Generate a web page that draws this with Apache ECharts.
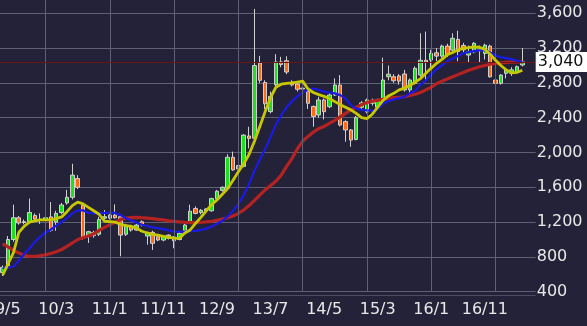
<!DOCTYPE html>
<html>
<head>
<meta charset="utf-8">
<script src="https://cdn.jsdelivr.net/npm/echarts/dist/echarts.min.js"></script>
<style>
html,body{margin:0;padding:0;background:#242238;}
#c{width:587px;height:326px;}
</style>
</head>
<body>
<div id="c"></div>
<script>
// Monthly categories (yy/m), 2009/5 .. 2017/8 (last two months empty)
const categories = [
 '09/5','09/6','09/7','09/8','09/9','09/10','09/11','09/12',
 '10/1','10/2','10/3','10/4','10/5','10/6','10/7','10/8','10/9','10/10','10/11','10/12',
 '11/1','11/2','11/3','11/4','11/5','11/6','11/7','11/8','11/9','11/10','11/11','11/12',
 '12/1','12/2','12/3','12/4','12/5','12/6','12/7','12/8','12/9','12/10','12/11','12/12',
 '13/1','13/2','13/3','13/4','13/5','13/6','13/7','13/8','13/9','13/10','13/11','13/12',
 '14/1','14/2','14/3','14/4','14/5','14/6','14/7','14/8','14/9','14/10','14/11','14/12',
 '15/1','15/2','15/3','15/4','15/5','15/6','15/7','15/8','15/9','15/10','15/11','15/12',
 '16/1','16/2','16/3','16/4','16/5','16/6','16/7','16/8','16/9','16/10','16/11','16/12',
 '17/1','17/2','17/3','17/4','17/5','17/6','17/7','17/8'
];
const yearStarts = ['10/1','11/1','12/1','13/1','14/1','15/1','16/1','17/1'];

const openP = [620,700,1000,1250,1195,1205,1275,1232,1225,1260,
 1200,1310,1420,1485,1700,1390,1050,1080,1060,1245,
 1245,1280,1262,1060,1147,1109,1204,1040,1082,1032,
 994,1051,985,1000,1100,1190,1355,1310,1350,1330,
 1470,1565,1590,1945,1811,1840,2190,2165,3030,2805,
 2470,2780,3041,3055,2807,2787,2740,2700,2529,2431,
 2604,2526,2661,2775,2355,2259,2150,2520,2469,2566,
 2520,2623,2871,2871,2880,2902,2719,2795,2890,3060,
 3064,3146,3108,3223,3177,3300,3230,3120,3157,3170,
 3139,3223,2833,2795,2910,2910,2929,3006];
const closeP = [680,1000,1250,1190,1205,1310,1235,1230,1250,1105,
 1300,1397,1485,1740,1600,1030,1090,1045,1230,1262,
 1280,1250,1051,1166,1109,1166,1166,1071,956,994,
 1040,1013,1030,1070,1166,1325,1300,1335,1330,1470,
 1555,1600,1945,1800,1850,2200,2162,3000,2830,2560,
 2645,3040,3011,2925,2777,2727,2730,2566,2414,2604,
 2469,2661,2775,2316,2259,2143,2400,2570,2604,2600,
 2604,2833,2900,2825,2820,2719,2833,2967,3060,3040,
 3139,3108,3223,3127,3312,3160,3180,3157,3255,3180,
 3234,2870,2795,2890,2948,2950,2986,3040];
const lowP = [580,690,975,1170,1175,1190,1200,1180,1195,1090,
 1100,1290,1400,1460,1580,1000,960,1020,1040,1225,
 1230,1240,807,1040,1090,1100,1150,940,880,980,
 980,1000,900,990,1090,1180,1290,1290,1320,1320,
 1460,1550,1580,1790,1750,1830,2047,2150,2800,2500,
 2450,2760,2980,2900,2760,2700,2680,2500,2296,2400,
 2380,2510,2650,2300,2124,2066,2140,2500,2450,2540,
 2500,2600,2830,2800,2780,2700,2650,2780,2870,2810,
 2960,3050,3090,3100,3160,3050,3150,3040,3140,3040,
 3070,2860,2760,2780,2850,2880,2910,2990];
const highP = [700,1040,1400,1270,1230,1470,1300,1300,1300,1430,
 1330,1420,1570,1870,1740,1420,1100,1100,1260,1339,
 1300,1404,1280,1180,1170,1180,1220,1090,1100,1040,
 1050,1060,1040,1080,1180,1400,1380,1350,1360,1480,
 1570,1610,1980,2010,1900,2210,2296,3650,3110,2830,
 2700,3130,3100,3106,2830,2800,2770,2710,2540,2640,
 2620,2680,2852,2890,2370,2270,2420,2590,2620,2620,
 2620,3090,3000,2900,2900,2950,2850,2990,3370,3390,
 3180,3200,3240,3250,3370,3400,3260,3230,3270,3230,
 3250,3240,2850,2900,2960,2980,3000,3200];

// Moving averages
const maShort = [590,720,845,1080,1150,1200,1215,1225,1225,1225,
 1240,1260,1320,1390,1430,1410,1370,1330,1290,1210,
 1205,1200,1175,1160,1150,1130,1095,1075,1060,1050,
 1035,1025,1015,1014,1075,1110,1185,1255,1330,1400,
 1455,1520,1585,1680,1780,1870,1980,2130,2300,2470,
 2630,2750,2785,2795,2800,2810,2820,2730,2690,2665,
 2645,2620,2585,2550,2520,2490,2450,2400,2390,2440,
 2520,2600,2650,2680,2720,2740,2770,2810,2850,2910,
 2970,3025,3070,3125,3150,3180,3200,3205,3215,3210,
 3185,3130,3060,3000,2950,2915,2920,2945];
const maMid = [670,675,690,755,830,900,970,1030,1080,1115,
 1160,1200,1245,1300,1335,1335,1305,1300,1300,1305,
 1308,1305,1280,1245,1220,1195,1170,1155,1140,1130,
 1120,1105,1090,1090,1090,1095,1100,1110,1125,1150,
 1180,1215,1265,1330,1410,1510,1640,1790,1920,2040,
 2180,2320,2430,2520,2590,2645,2690,2720,2735,2720,
 2700,2690,2680,2660,2620,2545,2505,2490,2485,2480,
 2500,2560,2590,2610,2625,2640,2680,2710,2780,2830,
 2900,2960,3000,3050,3080,3110,3140,3155,3165,3175,
 3175,3150,3115,3095,3085,3070,3055,3040];
const maLong = [950,915,875,845,820,805,805,815,825,840,
 860,885,920,960,1000,1020,1040,1065,1105,1140,
 1170,1200,1230,1245,1252,1255,1250,1245,1240,1232,
 1225,1215,1208,1202,1198,1195,1195,1198,1203,1210,
 1220,1235,1250,1270,1300,1340,1390,1450,1510,1570,
 1620,1670,1740,1840,1930,2040,2130,2185,2235,2275,
 2300,2335,2370,2410,2450,2490,2520,2550,2575,2590,
 2600,2610,2620,2630,2635,2640,2655,2670,2690,2720,
 2750,2790,2820,2845,2870,2895,2920,2945,2965,2985,
 3000,3015,3025,3030,3035,3038,3040,3042];

const candleData = openP.map((o, i) => [o, closeP[i], lowP[i], highP[i]]);
const lastClose = closeP[closeP.length - 1];
const fmt = v => Number(v).toLocaleString('en-US');

const chart = echarts.init(document.getElementById('c'), null, {renderer: 'canvas'});
chart.setOption({
  animation: false,
  backgroundColor: '#242238',
  grid: {left: 0, top: -21.5, width: 535.7, height: 313.2,
         containLabel: false, outerBoundsMode: 'none'},
  xAxis: {
    type: 'category',
    data: categories,
    boundaryGap: true,
    offset: 3.5,
    axisTick: {show: false},
    axisLine: {show: true, lineStyle: {color: '#55556a', type: 'dotted', width: 1}},
    splitLine: {show: false},
    axisLabel: {
      interval: 9, color: '#e8e8e8', fontSize: 16, margin: 7,
      fontFamily: 'DejaVu Sans'
    }
  },
  yAxis: {
    type: 'value',
    position: 'right',
    min: 400, max: 4000, interval: 400,
    axisLine: {show: false},
    axisTick: {show: false},
    splitLine: {show: true, lineStyle: {color: '#606074', width: 1}},
    axisLabel: {
      color: '#e8e8e8', fontSize: 16, margin: 1, showMaxLabel: false,
      fontFamily: 'DejaVu Sans', formatter: v => fmt(v)
    }
  },
  series: [
    {
      type: 'line', data: [], z: 1, silent: true,
      markLine: {
        silent: true, symbol: ['none', 'none'], animation: false,
        label: {show: false},
        lineStyle: {color: '#606074', width: 1, type: 'solid'},
        data: yearStarts.map(m => ({xAxis: m}))
      }
    },
    {
      type: 'candlestick',
      data: candleData,
      barWidth: 4,
      z: 2,
      itemStyle: {
        color: '#1ee01e', color0: '#ff6a14',
        borderColor: '#d0d0d0', borderColor0: '#d0d0d0', borderWidth: 1
      },
      markLine: {
        silent: true, symbol: ['none', 'none'], animation: false,
        lineStyle: {color: '#6a1414', width: 1, type: 'solid'},
        label: {
          show: true, position: 'end', distance: 0,
          formatter: p => fmt(p.value),
          color: '#111', backgroundColor: '#ffffff',
          fontSize: 16, fontFamily: 'DejaVu Sans',
          padding: [2, 30, 2, 2]
        },
        data: [{yAxis: lastClose}]
      }
    },
    {type: 'line', data: maLong, z: 3, symbol: 'none', silent: true,
     lineStyle: {color: '#b42222', width: 3.2}},
    {type: 'line', data: maMid, z: 4, symbol: 'none', silent: true,
     lineStyle: {color: '#1a1ae6', width: 2.2}},
    {type: 'line', data: maShort, z: 5, symbol: 'none', silent: true,
     lineStyle: {color: '#c8c800', width: 2.8}}
  ]
});
</script>
</body>
</html>
